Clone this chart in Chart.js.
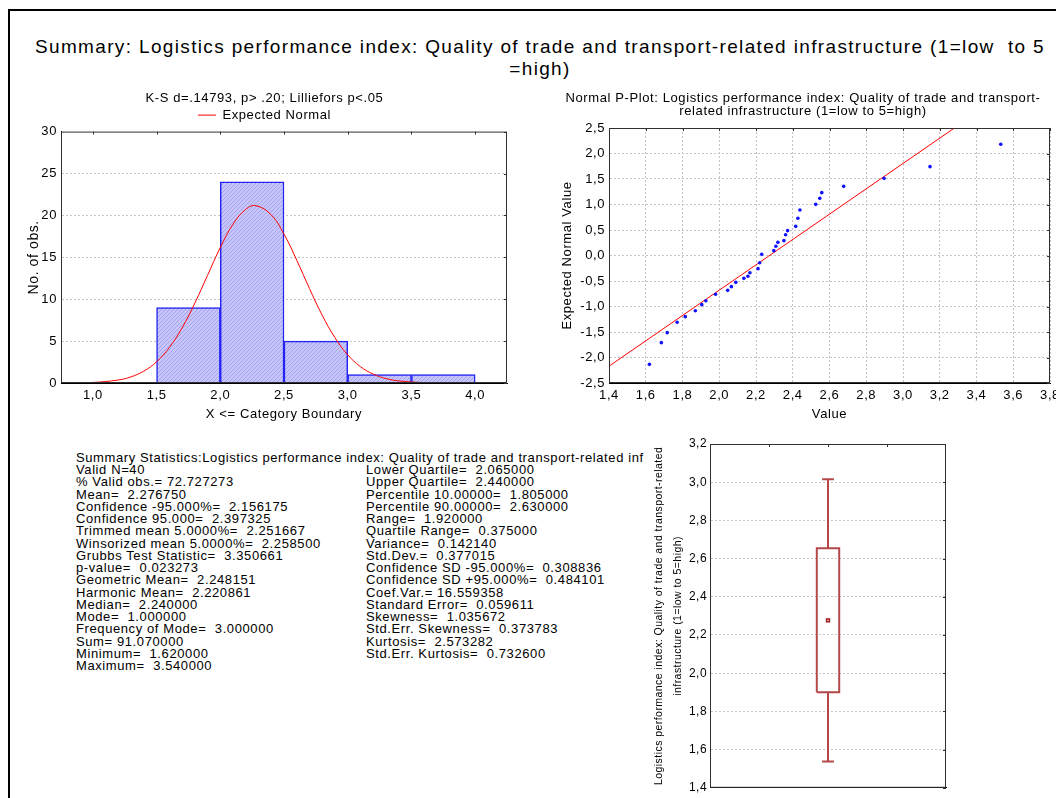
<!DOCTYPE html>
<html>
<head>
<meta charset="utf-8">
<script src="https://cdn.jsdelivr.net/npm/chart.js@4.4.0/dist/chart.umd.min.js"></script>
<style>
  html, body { margin: 0; padding: 0; width: 1056px; height: 798px; overflow: hidden; background: #fff; }
  body { position: relative; font-family: "Liberation Sans", Arial, sans-serif; color: #000; }
  .frame { position: absolute; left: 8px; top: 9px; width: 1100px; height: 900px; border: 2px solid #000; }
  .title { position: absolute; left: 0; top: 36px; width: 1080px; text-align: center; font-size: 19px; line-height: 22px; letter-spacing: 1.35px; white-space: pre; }
  .panel { position: absolute; }
  .stats { position: absolute; font-size: 13px; line-height: 12.27px; letter-spacing: 0.6px; white-space: pre; }
</style>
</head>
<body>
<div class="frame"></div>
<div class="title">Summary: Logistics performance index: Quality of trade and transport-related infrastructure (1=low  to 5
=high)</div>

<div class="panel" style="left:22px; top:85px;"><canvas id="hist" width="500" height="340"></canvas></div>
<div class="panel" style="left:556px; top:85px;"><canvas id="pplot" width="520" height="340"></canvas></div>
<div class="panel" style="left:646px; top:430px;"><canvas id="boxplot" width="320" height="368"></canvas></div>

<div class="stats" style="left:76px; top:452px;">Summary Statistics:Logistics performance index: Quality of trade and transport-related inf</div>
<div class="stats" style="left:76px; top:464px;">Valid N=40
% Valid obs.= 72.727273
Mean=  2.276750
Confidence -95.000%=  2.156175
Confidence 95.000=  2.397325
Trimmed mean 5.0000%=  2.251667
Winsorized mean 5.0000%=  2.258500
Grubbs Test Statistic=  3.350661
p-value=  0.023273
Geometric Mean=  2.248151
Harmonic Mean=  2.220861
Median=  2.240000
Mode=  1.000000
Frequency of Mode=  3.000000
Sum= 91.070000
Minimum=  1.620000
Maximum=  3.540000</div>
<div class="stats" style="left:366px; top:464px;">Lower Quartile=  2.065000
Upper Quartile=  2.440000
Percentile 10.00000=  1.805000
Percentile 90.00000=  2.630000
Range=  1.920000
Quartile Range=  0.375000
Variance=  0.142140
Std.Dev.=  0.377015
Confidence SD -95.000%=  0.308836
Confidence SD +95.000%=  0.484101
Coef.Var.= 16.559358
Standard Error=  0.059611
Skewness=  1.035672
Std.Err. Skewness=  0.373783
Kurtosis=  2.573282
Std.Err. Kurtosis=  0.732600</div>

<script>
// histogram
const binCenters = [1.75, 2.25, 2.75, 3.25, 3.75];
const binCounts = [9, 24, 5, 1, 1];
const histTicks = [1.0, 1.5, 2.0, 2.5, 3.0, 3.5, 4.0];
const countTicks = [0, 5, 10, 15, 20, 25, 30];

// expected normal curve
const normalX = [0.75, 1.0, 1.2, 1.3, 1.4, 1.5, 1.6, 1.7, 1.8, 1.9, 2.0, 2.1, 2.2, 2.28, 2.4, 2.5, 2.6, 2.7, 2.8, 2.9, 3.0, 3.1, 3.2, 3.3, 3.4, 3.6, 3.8, 4.25];
const normalY = [0.01, 0.07, 0.36, 0.74, 1.42, 2.53, 4.23, 6.57, 9.52, 12.85, 16.16, 18.96, 20.73, 21.16, 20.06, 17.76, 14.65, 11.27, 8.08, 5.40, 3.36, 1.95, 1.06, 0.53, 0.25, 0.05, 0.01, 0];

// normal probability plot
const ppValue = [1.62, 1.685, 1.717, 1.771, 1.815, 1.87, 1.905, 1.927, 1.98, 2.046, 2.066, 2.09, 2.134, 2.156, 2.167, 2.211, 2.22, 2.231, 2.297, 2.308, 2.319, 2.352, 2.361, 2.372, 2.416, 2.428, 2.439, 2.525, 2.547, 2.558, 2.677, 2.897, 3.147, 3.532];
const ppExpected = [-2.134, -1.709, -1.513, -1.31, -1.199, -1.082, -0.964, -0.886, -0.761, -0.683, -0.611, -0.526, -0.448, -0.408, -0.337, -0.258, -0.141, 0.023, 0.095, 0.18, 0.258, 0.291, 0.408, 0.487, 0.572, 0.729, 0.892, 1.003, 1.121, 1.232, 1.356, 1.513, 1.742, 2.18];
const fitX = [1.4, 3.28];
const fitY = [-2.17, 2.5];
const valueTicks = [1.4, 1.6, 1.8, 2.0, 2.2, 2.4, 2.6, 2.8, 3.0, 3.2, 3.4, 3.6, 3.8];
const zTicks = [-2.5, -2.0, -1.5, -1.0, -0.5, 0.0, 0.5, 1.0, 1.5, 2.0, 2.5];

// box plot: -1.96 SD, -1 SD, mean, +1 SD, +1.96 SD
const boxLevels = [1.538, 1.900, 2.277, 2.654, 3.016];
const boxTicks = [1.4, 1.6, 1.8, 2.0, 2.2, 2.4, 2.6, 2.8, 3.0, 3.2];

Chart.defaults.font.family = '"Liberation Sans", Arial, sans-serif';
Chart.defaults.color = '#000';
Chart.defaults.animation = false;

const comma = v => Number(v).toFixed(1).replace('.', ',');
const gridGray = '#c4c4c4';
const setTicks = arr => scale => { scale.ticks = arr.map(v => ({ value: v })); };

// the original output uses slightly spread-out lettering
const spacing = px => ({
  id: 'spacing',
  beforeUpdate(chart) { chart.ctx.letterSpacing = px; },
  beforeDraw(chart) { chart.ctx.letterSpacing = px; }
});

// box around the plot area + small inward tick marks on top/right
const frame = {
  id: 'frame',
  afterDatasetsDraw(chart) {
    const { ctx, chartArea: a, scales } = chart;
    ctx.save();
    ctx.strokeStyle = '#303030';
    ctx.lineWidth = 1;
    ctx.strokeRect(a.left + 0.5, a.top + 0.5, a.right - a.left - 1, a.bottom - a.top - 1);
    ctx.beginPath();
    scales.x.ticks.forEach(t => {
      const px = Math.round(scales.x.getPixelForValue(t.value)) + 0.5;
      ctx.moveTo(px, a.top); ctx.lineTo(px, a.top + 3);
    });
    scales.y.ticks.forEach(t => {
      const py = Math.round(scales.y.getPixelForValue(t.value)) + 0.5;
      ctx.moveTo(a.right, py); ctx.lineTo(a.right - 3, py);
    });
    ctx.stroke();
    ctx.restore();
  }
};

function hatch() {
  const c = document.createElement('canvas');
  c.width = 4; c.height = 4;
  const g = c.getContext('2d');
  g.fillStyle = '#c6c6fa';
  g.fillRect(0, 0, 4, 4);
  g.strokeStyle = '#a2a2ee';
  g.lineWidth = 1;
  g.beginPath();
  g.moveTo(0, 4); g.lineTo(4, 0);
  g.stroke();
  return g.createPattern(c, 'repeat');
}

new Chart(document.getElementById('hist'), {
  type: 'bar',
  data: {
    datasets: [
      {
        type: 'line',
        label: 'Expected Normal',
        data: normalX.map((x, i) => ({ x, y: normalY[i] })),
        borderColor: '#ff0000',
        borderWidth: 1,
        pointRadius: 0,
        pointStyle: 'line',
        tension: 0.4,
        order: 0
      },
      {
        label: 'obs',
        data: binCenters.map((x, i) => ({ x, y: binCounts[i] })),
        backgroundColor: hatch(),
        borderColor: '#2323f2',
        borderWidth: 1.5,
        barPercentage: 1,
        categoryPercentage: 1,
        order: 1
      }
    ]
  },
  options: {
    responsive: false,
    layout: { padding: { right: 15 } },
    plugins: {
      title: {
        display: true,
        text: 'K-S d=.14793, p> .20; Lilliefors p<.05',
        font: { size: 13, weight: 'normal' },
        padding: { top: 6, bottom: 0 }
      },
      legend: {
        labels: {
          usePointStyle: true,
          pointStyleWidth: 18,
          font: { size: 13 },
          padding: 2,
          filter: item => item.text === 'Expected Normal'
        }
      },
      tooltip: { enabled: false }
    },
    scales: {
      x: {
        type: 'linear',
        min: 0.75,
        max: 4.25,
        offset: false,
        afterBuildTicks: setTicks(histTicks),
        afterFit: s => { s.height = 42; },
        grid: { display: false, drawTicks: false },
        border: { color: '#000' },
        ticks: { callback: comma, font: { size: 13 }, padding: 5 },
        title: { display: true, text: 'X <= Category Boundary', font: { size: 13 }, padding: { top: 0, bottom: 3 } }
      },
      y: {
        min: 0,
        max: 30,
        afterBuildTicks: setTicks(countTicks),
        afterFit: s => { s.width = 39; },
        grid: { color: c => (c.tick && (c.tick.value === 0 || c.tick.value === 30)) ? 'rgba(0,0,0,0)' : gridGray, drawTicks: false },
        border: { color: '#000', dash: [2, 2] },
        ticks: { font: { size: 13 }, padding: 4 },
        title: { display: true, text: 'No. of obs.', font: { size: 14 }, padding: { top: 4, bottom: 0 } }
      }
    }
  },
  plugins: [spacing('0.6px'), frame]
});

new Chart(document.getElementById('pplot'), {
  type: 'scatter',
  data: {
    datasets: [
      {
        data: ppValue.map((x, i) => ({ x, y: ppExpected[i] })),
        backgroundColor: '#1010ff',
        borderColor: '#1010ff',
        borderWidth: 0,
        pointRadius: 1.8
      },
      {
        data: fitX.map((x, i) => ({ x, y: fitY[i] })),
        showLine: true,
        borderColor: '#ff0000',
        borderWidth: 1,
        pointRadius: 0
      }
    ]
  },
  options: {
    responsive: false,
    layout: { padding: { right: 26 } },
    plugins: {
      title: {
        display: true,
        text: ['Normal P-Plot: Logistics performance index: Quality of trade and transport-', 'related infrastructure (1=low to 5=high)'],
        font: { size: 13, weight: 'normal', lineHeight: '13px' },
        padding: { top: 6.5, bottom: 10.5 }
      },
      legend: { display: false },
      tooltip: { enabled: false }
    },
    scales: {
      x: {
        min: 1.4,
        max: 3.8,
        afterBuildTicks: setTicks(valueTicks),
        afterFit: s => { s.height = 42; },
        grid: { color: gridGray, drawTicks: false },
        border: { color: '#000', dash: [2, 2] },
        ticks: { callback: comma, font: { size: 13 }, padding: 5 },
        title: { display: true, text: 'Value', font: { size: 13 }, padding: { top: 0, bottom: 3 } }
      },
      y: {
        min: -2.5,
        max: 2.5,
        afterBuildTicks: setTicks(zTicks),
        afterFit: s => { s.width = 53; },
        grid: { color: gridGray, drawTicks: false },
        border: { color: '#000', dash: [2, 2] },
        ticks: { callback: comma, font: { size: 13 }, padding: 4 },
        title: { display: true, text: 'Expected Normal Value', font: { size: 13 }, padding: { top: 4, bottom: 0 } }
      }
    }
  },
  plugins: [spacing('0.6px'), frame]
});

const boxX = 2;
const boxHalf = 0.19;
const capHalf = 0.1;
const boxRed = '#b44848';
const seg = pts => ({
  data: pts,
  showLine: true,
  borderColor: boxRed,
  borderWidth: 2,
  pointRadius: 0
});
const [wLo, bLo, mean, bHi, wHi] = boxLevels;

new Chart(document.getElementById('boxplot'), {
  type: 'scatter',
  data: {
    datasets: [
      seg([{ x: boxX - boxHalf, y: bLo }, { x: boxX + boxHalf, y: bLo }, { x: boxX + boxHalf, y: bHi }, { x: boxX - boxHalf, y: bHi }, { x: boxX - boxHalf, y: bLo }]),
      seg([{ x: boxX, y: bHi }, { x: boxX, y: wHi }]),
      seg([{ x: boxX - capHalf, y: wHi }, { x: boxX + capHalf, y: wHi }]),
      seg([{ x: boxX, y: bLo }, { x: boxX, y: wLo }]),
      seg([{ x: boxX - capHalf, y: wLo }, { x: boxX + capHalf, y: wLo }]),
      {
        data: [{ x: boxX, y: mean }],
        pointStyle: 'rect',
        pointRadius: 2,
        backgroundColor: '#fff',
        borderColor: '#a01818',
        borderWidth: 1.5
      }
    ]
  },
  options: {
    responsive: false,
    layout: { padding: { top: 14, right: 20 } },
    plugins: { legend: { display: false }, tooltip: { enabled: false } },
    scales: {
      x: {
        min: 0,
        max: 4,
        afterBuildTicks: setTicks([1, 2, 3]),
        afterFit: s => { s.height = 8; },
        grid: { display: false, drawTicks: false },
        border: { color: '#000' },
        ticks: { display: false }
      },
      y: {
        min: 1.4,
        max: 3.2,
        afterBuildTicks: setTicks(boxTicks),
        afterFit: s => { s.width = 64; },
        grid: { color: c => (c.tick && (c.tick.value === 1.4 || c.tick.value === 3.2)) ? 'rgba(0,0,0,0)' : gridGray, drawTicks: false },
        border: { color: '#000', dash: [2, 2] },
        ticks: { callback: comma, font: { size: 12 }, padding: 3 },
        title: {
          display: true,
          text: ['Logistics performance index: Quality of trade and transport-related', 'infrastructure (1=low to 5=high)'],
          font: { size: 10.5, lineHeight: 1.8 },
          padding: { top: 4, bottom: 0 }
        }
      }
    }
  },
  plugins: [spacing('0.45px'), frame]
});
</script>
</body>
</html>
